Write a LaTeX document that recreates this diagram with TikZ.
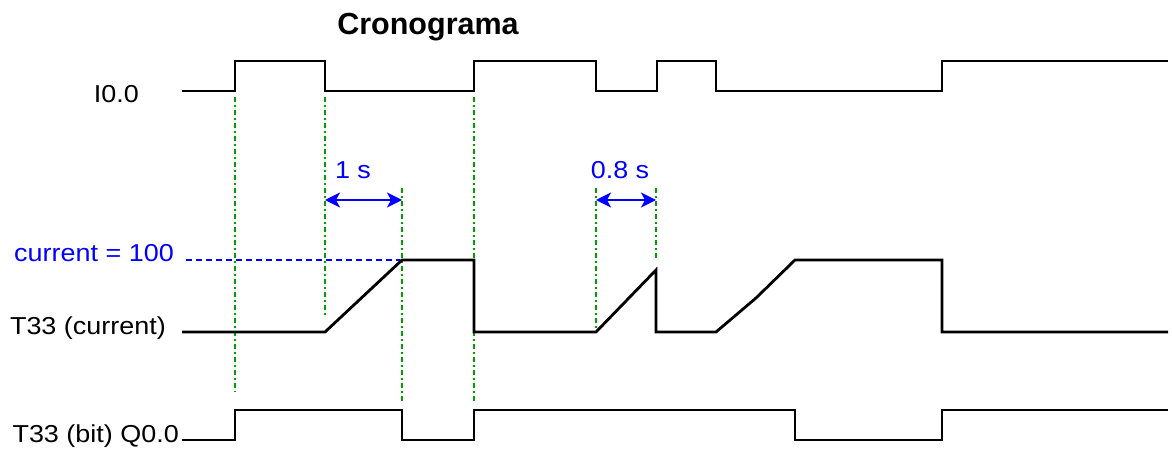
\documentclass[tikz,border=0pt]{standalone}
\usepackage{fontspec}
\setmainfont{Liberation Sans}
\newfontfamily\lblfont[FakeStretch=1.1]{Liberation Sans}
\usetikzlibrary{arrows.meta}
\definecolor{grn}{RGB}{0,160,0}
\definecolor{blu}{RGB}{0,0,255}
\tikzset{
  sig/.style={line width=2.8pt, black, line join=miter},
  guide/.style={grn, line width=2pt, dash pattern=on 5pt off 3pt on 2pt off 3pt},
  lvl/.style={blu, line width=2pt, dash pattern=on 6pt off 4pt},
  dim/.style={blu, line width=2pt, {Stealth[length=15pt,width=15pt,inset=4pt]}-{Stealth[length=15pt,width=15pt,inset=4pt]}},
  lbl/.style={font=\lblfont\fontsize{24.5}{28}\selectfont, inner sep=0pt},
  bl/.style={lbl, text=blu}
}
\begin{document}
\begin{tikzpicture}[x=1pt,y=-1pt]
\useasboundingbox (0,0) rectangle (1172,462);
% title
\node[font=\bfseries\fontsize{30.5}{34}\selectfont, inner sep=0pt] (title) at (428,27) {Cronograma};
% labels
\node[lbl, anchor=east] (li) at (139,94) {I0.0};
\node[lbl, anchor=east] (lc) at (166,328) {T33 (current)};
\node[bl, anchor=east] (lh) at (174,253) {current = 100};
\node[lbl, anchor=east] (lb) at (179,436) {T33 (bit) Q0.0};
% guides
\draw[guide] (235,97) -- (235,392);
\draw[guide] (325,97) -- (325,315);
\draw[guide] (402,188) -- (402,402);
\draw[guide] (474,97) -- (474,403);
\draw[guide] (596,188) -- (596,332);
\draw[guide] (656,188) -- (656,258);
% level
\draw[lvl] (186,260) -- (400,260);
% dimension arrows
\coordinate (a1) at (325,200); \coordinate (a2) at (402,200);
\coordinate (b1) at (596,200); \coordinate (b2) at (656,200);
\draw[dim] (a1) -- (a2);
\draw[dim] (b1) -- (b2);
\node[bl] (t1) at (353,170) {1 s};
\node[bl] (t2) at (620,170) {0.8 s};
% signals
\draw[sig] (182,91) -- (235,91) -- (235,61) -- (325,61) -- (325,91) -- (474,91) -- (474,61) -- (596,61) -- (596,91) -- (657,91) -- (657,61) -- (716,61) -- (716,91) -- (942,91) -- (942,61) -- (1168,61);
\draw[sig] (182,332) -- (325,332) -- (402,260) -- (474,260) -- (474,332) -- (596,332) -- (656,270) -- (656,332) -- (716,332) -- (756,298) -- (795,260) -- (942,260) -- (942,332) -- (1168,332);
\draw[sig] (182,440) -- (235,440) -- (235,410) -- (402,410) -- (402,440) -- (474,440) -- (474,410) -- (795,410) -- (795,440) -- (942,440) -- (942,410) -- (1168,410);
\end{tikzpicture}
\end{document}
